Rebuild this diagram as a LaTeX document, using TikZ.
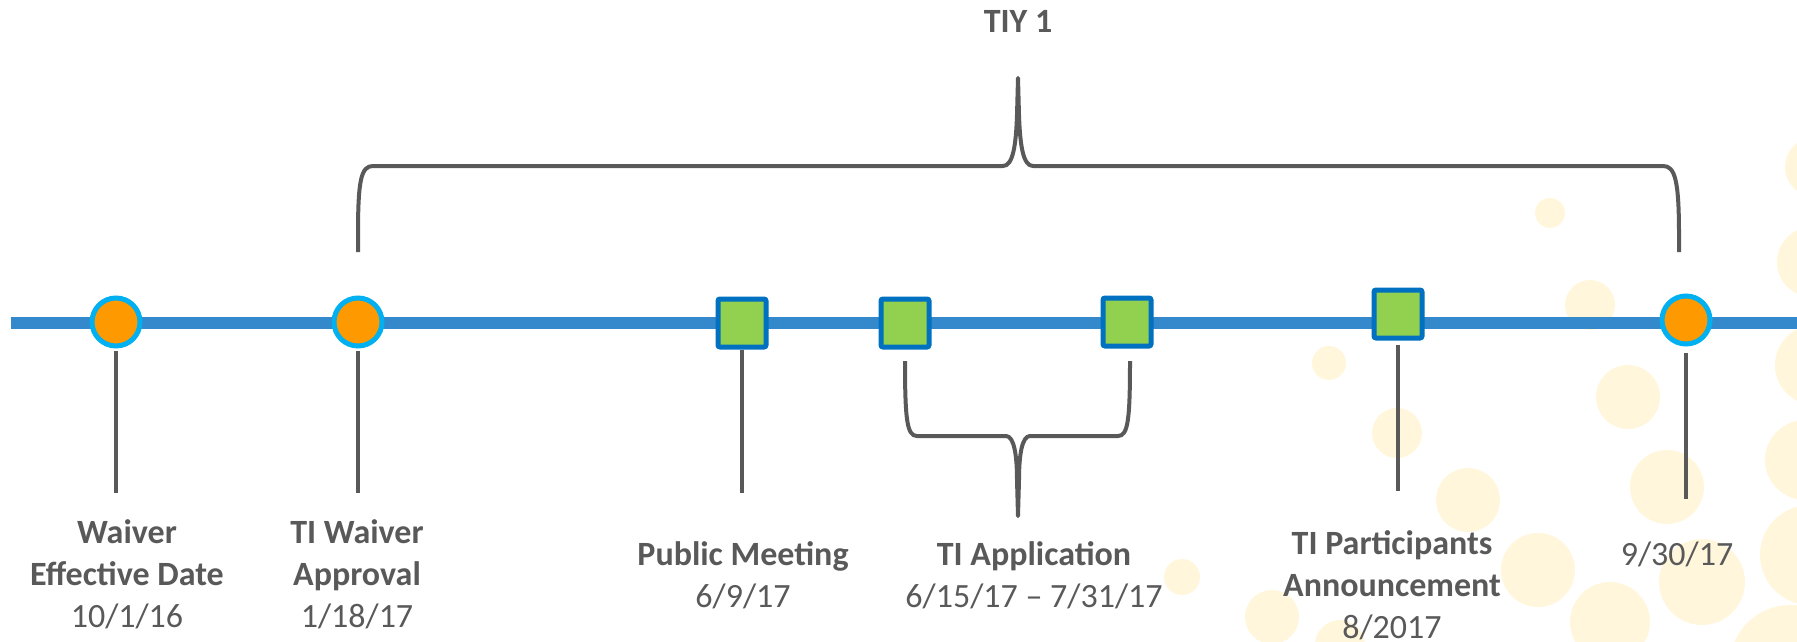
\documentclass[tikz,border=0pt]{standalone}
\usepackage{fontspec}
\setmainfont{Carlito}
\definecolor{lineaazul}{HTML}{3489CC}
\definecolor{bordecian}{HTML}{00B0F0}
\definecolor{naranja}{HTML}{FF9900}
\definecolor{verde}{HTML}{92D050}
\definecolor{azul}{HTML}{0070C0}
\definecolor{gris}{HTML}{595959}
\definecolor{puntos}{HTML}{FFF6DB}
\begin{document}
\begin{tikzpicture}[x=1pt,y=-1pt,
		hito/.style={circle,draw=bordecian,fill=naranja,line width=5pt,minimum size=48pt,inner sep=0pt},
		tarea/.style={rectangle,rounded corners=2pt,draw=azul,fill=verde,line width=5pt,minimum size=48pt,inner sep=0pt},
		marca/.style={draw=gris,line width=3.5pt},
		llave/.style={draw=gris,line width=4pt,line join=round},
		etiqueta/.style={text=gris,align=center,anchor=base,inner sep=0pt,font=\fontsize{34}{42}\selectfont}]
		\useasboundingbox (0,0) rectangle (1797,642);

		% Puntos amarillos del fondo
		\foreach \px/\py/\pr in {1550/213/15, 1590/305/25, 1329/363/17, 1628/397/32, 1397/433/25,
			1667/487/37, 1468/500/32, 1538/570/37, 1702/582/43, 1610/622/40, 1182/577/18,
			1272/617/27, 1340/645/25, 1815/167/30, 1812/262/35, 1815/365/40, 1805/460/40,
			1810/555/50, 1790/665/60}
			\fill[puntos] (\px,\py) circle (\pr);

		% Linea de tiempo
		\coordinate (inicio) at (11,323);
		\coordinate (fin) at (1797,323);
		\draw[lineaazul,line width=12pt] (inicio) -- (fin);

		% Hitos y tareas
		\node[hito] (m1) at (116,322) {};
		\node[hito] (m2) at (358,322) {};
		\node[tarea] (m3) at (742,323) {};
		\node[tarea] (m4) at (905,323) {};
		\node[tarea] (m5) at (1127,322) {};
		\node[tarea] (m6) at (1398,314) {};
		\node[hito] (m7) at (1686,320) {};

		% Marcas verticales
		\coordinate (t1) at (116,493);
		\coordinate (t2) at (358,493);
		\coordinate (t3) at (742,493);
		\coordinate (t6) at (1398,491);
		\coordinate (t7) at (1686,499);
		\draw[marca] ([yshift=-2pt]m1.south) -- (t1);
		\draw[marca] ([yshift=-2pt]m2.south) -- (t2);
		\draw[marca] (m3.south) -- (t3);
		\draw[marca] ([yshift=-4pt]m6.south) -- (t6);
		\draw[marca] ([yshift=-6pt]m7.south) -- (t7);

		% Llave superior
		\draw[llave] (358,252) -- (358,235) .. controls (358,180) and (361,166) .. (373,166)
			-- (1003,166) .. controls (1013,166) and (1016,145) .. (1017,115) -- (1018,78)
			-- (1019,115) .. controls (1020,145) and (1023,166) .. (1033,166)
			-- (1663,166) .. controls (1675,166) and (1679,180) .. (1679,235) -- (1679,252);
		\node[etiqueta] (tiy) at (1018,33) {\textbf{TIY 1}};

		% Llave inferior
		\draw[llave] (905,361) .. controls (905,420) and (907,436) .. (917,436)
			-- (1006,436) .. controls (1014,436) and (1017,455) .. (1017,480) -- (1018,516)
			-- (1019,480) .. controls (1019,455) and (1022,436) .. (1030,436)
			-- (1118,436) .. controls (1128,436) and (1130,420) .. (1130,361);

		% Textos (anclados en la linea base de la ultima linea)
		\node[etiqueta] (l1) at (127,627) {\textbf{Waiver}\\\textbf{Effective Date}\\10/1/16};
		\node[etiqueta] (l2) at (357,627) {\textbf{TI Waiver}\\\textbf{Approval}\\1/18/17};
		\node[etiqueta] (l3) at (743,607) {\textbf{Public Meeting}\\6/9/17};
		\node[etiqueta] (l4) at (1034,607) {\textbf{TI Application}\\6/15/17 -- 7/31/17};
		\node[etiqueta] (l6) at (1392,638) {\textbf{TI Participants}\\\textbf{Announcement}\\8/2017};
		\node[etiqueta] (l7) at (1677,565) {9/30/17};
	\end{tikzpicture}
\end{document}
